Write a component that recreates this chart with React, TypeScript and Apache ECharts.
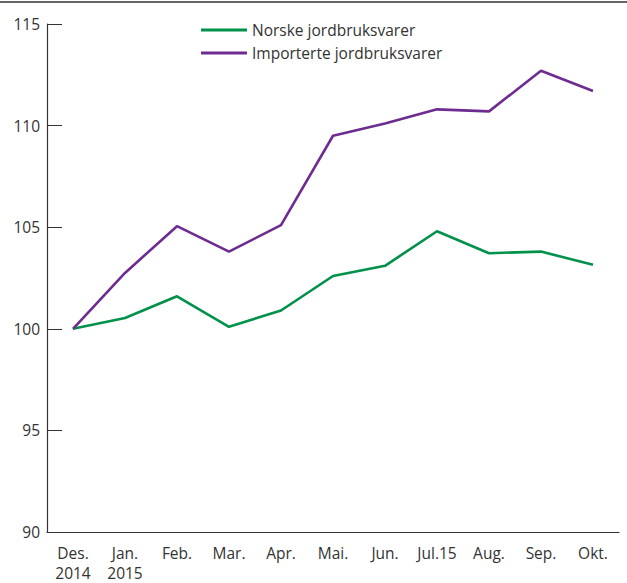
import React, { useEffect, useRef } from "react";
import * as echarts from "echarts";

const categories = ["Des.\n2014", "Jan.\n2015", "Feb.", "Mar.", "Apr.", "Mai.", "Jun.", "Jul.15", "Aug.", "Sep.", "Okt."];
const norske = [100, 100.53, 101.6, 100.1, 100.9, 102.6, 103.1, 104.8, 103.72, 103.8, 103.15];
const importerte = [100, 102.75, 105.05, 103.8, 105.1, 109.5, 110.1, 110.8, 110.7, 112.7, 111.7];
const seriesNames = ["Norske jordbruksvarer", "Importerte jordbruksvarer"];

export default function App() {
  const ref = useRef<HTMLDivElement>(null);
  useEffect(() => {
    if (!ref.current) return;
    const chart = echarts.init(ref.current, undefined, { renderer: "svg" });
    const font = "'Open Sans', 'Noto Sans', sans-serif";
    chart.setOption({
      animation: false,
      textStyle: { fontFamily: font },
      grid: { left: 47, right: 8, top: 24, bottom: 51, containLabel: false },
      legend: {
        orient: "vertical",
        left: 196,
        top: 17,
        itemWidth: 46,
        itemHeight: 3,
        itemGap: 7,
        icon: "rect",
        textStyle: { fontSize: 15.5, color: "#333", fontFamily: font, padding: [0, 0, 0, 0] },
        data: seriesNames,
      },
      xAxis: {
        type: "category",
        data: categories,
        boundaryGap: true,
        axisLine: { lineStyle: { color: "#333", width: 1.2 } },
        axisTick: { inside: true, length: 12, alignWithLabel: true, lineStyle: { color: "#333" } },
        axisLabel: { color: "#333", fontSize: 15.5, margin: 11, lineHeight: 20, fontFamily: font },
      },
      yAxis: {
        type: "value",
        min: 90,
        max: 115,
        interval: 5,
        axisLine: { show: true, lineStyle: { color: "#333", width: 1.2 } },
        axisTick: { show: true, inside: true, length: 15, lineStyle: { color: "#333" } },
        axisLabel: { color: "#333", fontSize: 15.5, margin: 7, fontFamily: font },
        splitLine: { show: false },
      },
      graphic: [
        { type: "line", shape: { x1: 0, y1: 2, x2: 627, y2: 2 }, style: { stroke: "#333", lineWidth: 1.5 } },
      ],
      series: [
        {
          name: seriesNames[0],
          type: "line",
          data: norske,
          symbol: "none",
          lineStyle: { color: "#00914a", width: 2.6 },
          itemStyle: { color: "#00914a" },
        },
        {
          name: seriesNames[1],
          type: "line",
          data: importerte,
          symbol: "none",
          lineStyle: { color: "#6e2c91", width: 2.6 },
          itemStyle: { color: "#6e2c91" },
        },
      ],
    });
    return () => chart.dispose();
  }, []);
  return (
    <div
      ref={ref}
      style={{ position: "absolute", left: 0, top: 0, width: 627, height: 583, background: "#fff" }}
    />
  );
}
